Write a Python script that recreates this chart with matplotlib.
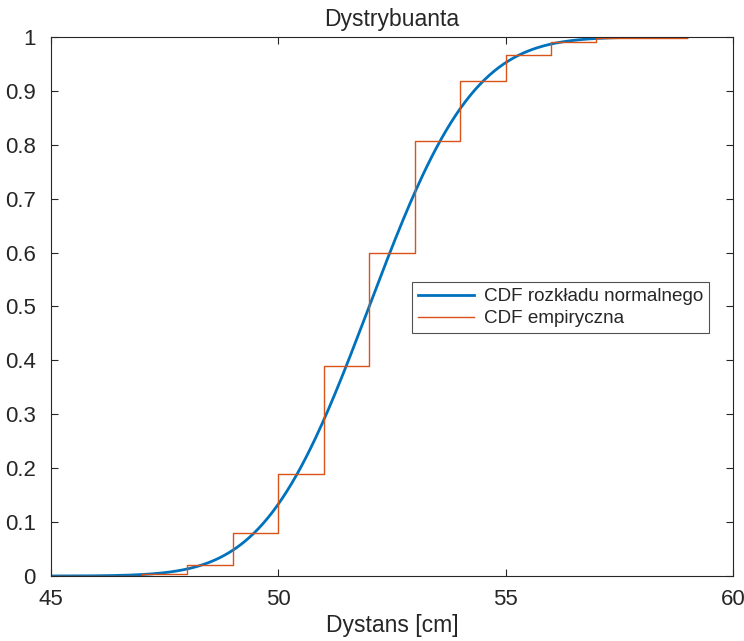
import matplotlib
matplotlib.use("Agg")
import matplotlib.pyplot as plt
import numpy as np
from math import erf, sqrt

# empirical CDF (step levels after each x)
emp_x = [45, 47, 48, 49, 50, 51, 52, 53, 54, 55, 56, 57, 59]
emp_y = [0.0, 0.004, 0.02, 0.08, 0.19, 0.39, 0.60, 0.807, 0.918, 0.967, 0.991, 0.998, 1.0]

# fitted normal distribution
mu = 52.0
sigma = 1.8
x_min, x_max = 45, 59

xs = np.linspace(x_min, x_max, 400)
cdf = np.array([0.5 * (1 + erf((v - mu) / (sigma * sqrt(2)))) for v in xs])

plt.rcParams['font.family'] = ['Liberation Sans', 'DejaVu Sans']
txt = '#262626'

fig = plt.figure(figsize=(7.44, 6.41), dpi=100)
ax = fig.add_axes([0.0685, 0.1014, 0.9165, 0.8409])

ax.plot(xs, cdf, color='#0072BD', lw=2.0, label='CDF rozkładu normalnego')
ax.plot(emp_x, emp_y, color='#D95319', lw=1.0, drawstyle='steps-post', label='CDF empiryczna')

ax.set_xlim(45, 60)
ax.set_ylim(0, 1)
ax.set_xticks([45, 50, 55, 60])
ax.set_yticks(np.arange(0, 1.01, 0.1))
ax.set_yticklabels(['0', '0.1', '0.2', '0.3', '0.4', '0.5', '0.6', '0.7', '0.8', '0.9', '1'])
ax.tick_params(direction='in', top=True, right=True, length=5, width=0.8,
               labelsize=16, colors=txt)
ax.tick_params(axis='x', pad=9)
ax.tick_params(axis='y', pad=11)
for s in ax.spines.values():
    s.set_color('#262626')
    s.set_linewidth(0.8)

ax.set_title('Dystrybuanta', fontsize=16.5, color=txt, pad=8)
ax.set_xlabel('Dystans [cm]', fontsize=16.5, color=txt, labelpad=3)

leg = ax.legend(loc='center', bbox_to_anchor=(0.747, 0.498), fontsize=13.6,
                frameon=True, fancybox=False, edgecolor='#262626',
                handlelength=3.0, borderpad=0.3, labelspacing=0.25, handletextpad=0.5)
leg.get_frame().set_linewidth(0.8)
for t in leg.get_texts():
    t.set_color(txt)

plt.savefig('out.png', dpi=100)
